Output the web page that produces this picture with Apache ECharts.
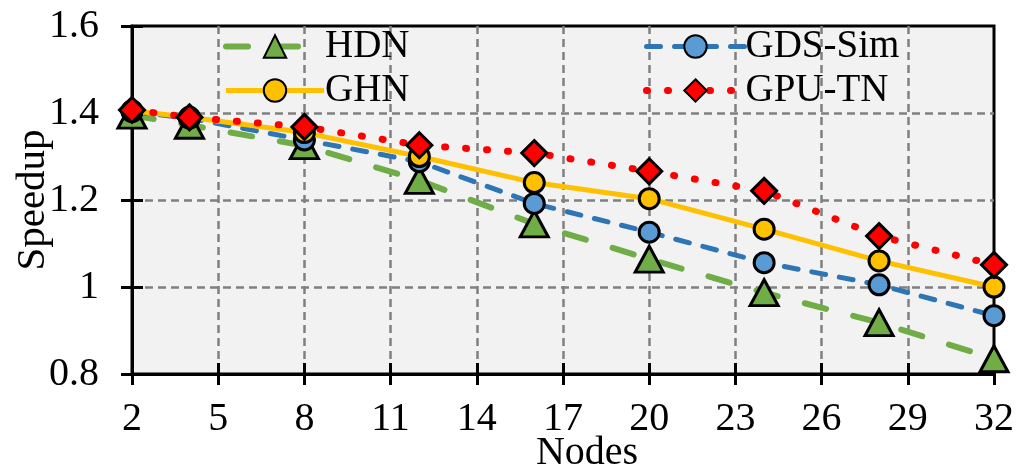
<!DOCTYPE html>
<html>
<head>
<meta charset="utf-8">
<script src="https://cdn.jsdelivr.net/npm/echarts@6/dist/echarts.min.js"></script>
<style>
  html, body { margin: 0; padding: 0; background: #fff; }
  #chart { width: 1016px; height: 473px; }
</style>
</head>
<body>
<div id="chart"></div>
<script>
const nodes = [2, 4, 8, 12, 16, 20, 24, 28, 32];
const hdn = [1.395, 1.372, 1.325, 1.245, 1.145, 1.064, 0.987, 0.918, 0.835];
const ghn = [1.405, 1.39, 1.355, 1.3, 1.24, 1.203, 1.133, 1.06, 1.0];
const gdsSim = [1.403, 1.388, 1.338, 1.288, 1.192, 1.126, 1.056, 1.005, 0.934];
const gpuTn = [1.407, 1.39, 1.368, 1.326, 1.308, 1.266, 1.221, 1.117, 1.051];

const font = "'Liberation Serif', 'Times New Roman', serif";
const pairs = (ys) => nodes.map((x, i) => [x, ys[i]]);

const chart = echarts.init(document.getElementById("chart"));

// shared axis bits
const tickOut = { show: true, inside: false, length: 11, lineStyle: { color: "#000", width: 3 } };
const tickIn = { show: true, inside: true, length: 11, lineStyle: { color: "#000", width: 3 } };
const gridLine = {
  show: true, showMinLine: false, showMaxLine: false,
  lineStyle: { color: "#808080", width: 2.5, type: [8, 5] }
};

const legendText = { fontFamily: font, fontSize: 39, color: "#000", padding: [0, 0, 0, -4] };

const option = {
  animation: false,
  grid: {
    left: 132, right: 22, top: 26, bottom: 99,
    outerBoundsMode: "none", containLabel: false,
    show: true, backgroundColor: "#F2F2F2", borderColor: "#000", borderWidth: 3
  },
  legend: [
    {
      data: ["HDN", "GHN"], orient: "vertical", left: 218, top: 22,
      itemWidth: 98, itemHeight: 28, itemGap: 5, textStyle: legendText,
      lineStyle: { width: "inherit", type: "inherit", cap: "inherit" }
    },
    {
      data: ["GDS-Sim", "GPU-TN"], orient: "vertical", left: 638, top: 22,
      itemWidth: 98, itemHeight: 28, itemGap: 5, textStyle: legendText,
      lineStyle: { width: "inherit", type: "inherit", cap: "inherit" }
    }
  ],
  xAxis: [
    {
      type: "value", min: 2, max: 32, interval: 3,
      name: "Nodes", nameLocation: "middle", nameGap: 59, nameMoveOverlap: false,
      nameTextStyle: { fontFamily: font, fontSize: 40, color: "#000", padding: [0, 0, 0, 48] },
      axisLine: { show: true, lineStyle: { color: "#000", width: 3 } },
      axisTick: tickOut,
      axisLabel: { fontFamily: font, fontSize: 40, color: "#000", margin: 25 },
      splitLine: gridLine
    },
    {
      type: "value", min: 2, max: 32, interval: 3, position: "bottom",
      axisLine: { show: false }, axisTick: tickIn,
      axisLabel: { show: false }, splitLine: { show: false }
    }
  ],
  yAxis: [
    {
      type: "value", min: 0.8, max: 1.6, interval: 0.2,
      name: "Speedup", nameLocation: "middle", nameGap: 78, nameMoveOverlap: false,
      nameTextStyle: { fontFamily: font, fontSize: 41, color: "#000" },
      axisLine: { show: true, lineStyle: { color: "#000", width: 3 } },
      axisTick: tickOut,
      axisLabel: { fontFamily: font, fontSize: 40, color: "#000", margin: 33 },
      splitLine: gridLine
    },
    {
      type: "value", min: 0.8, max: 1.6, interval: 0.2, position: "left",
      axisLine: { show: false }, axisTick: tickIn,
      axisLabel: { show: false }, splitLine: { show: false }
    }
  ],
  series: [
    {
      name: "HDN", type: "line", z: 2, data: pairs(hdn),
      symbol: "triangle", symbolSize: [28, 26],
      lineStyle: { color: "#70AD47", width: 6, type: [22, 28], cap: "round" },
      itemStyle: { color: "#70AD47", borderColor: "#000", borderWidth: 3 }
    },
    {
      name: "GDS-Sim", type: "line", z: 3, data: pairs(gdsSim),
      symbol: "circle", symbolSize: 20,
      lineStyle: { color: "#2E75B6", width: 5, type: [14, 14], cap: "round" },
      itemStyle: { color: "#5B9BD5", borderColor: "#000", borderWidth: 3 }
    },
    {
      name: "GHN", type: "line", z: 4, data: pairs(ghn),
      symbol: "circle", symbolSize: 20,
      lineStyle: { color: "#FFC000", width: 5, type: "solid" },
      itemStyle: { color: "#FFC000", borderColor: "#000", borderWidth: 3 }
    },
    {
      name: "GPU-TN", type: "line", z: 5, data: pairs(gpuTn),
      symbol: "diamond", symbolSize: [25, 25],
      lineStyle: { color: "#FF0000", width: 7, type: [1, 20], cap: "round" },
      itemStyle: { color: "#FF0000", borderColor: "#000", borderWidth: 3 }
    }
  ]
};

chart.setOption(option);
window.addEventListener("resize", function () {
  chart.resize();
});
</script>
</body>
</html>
